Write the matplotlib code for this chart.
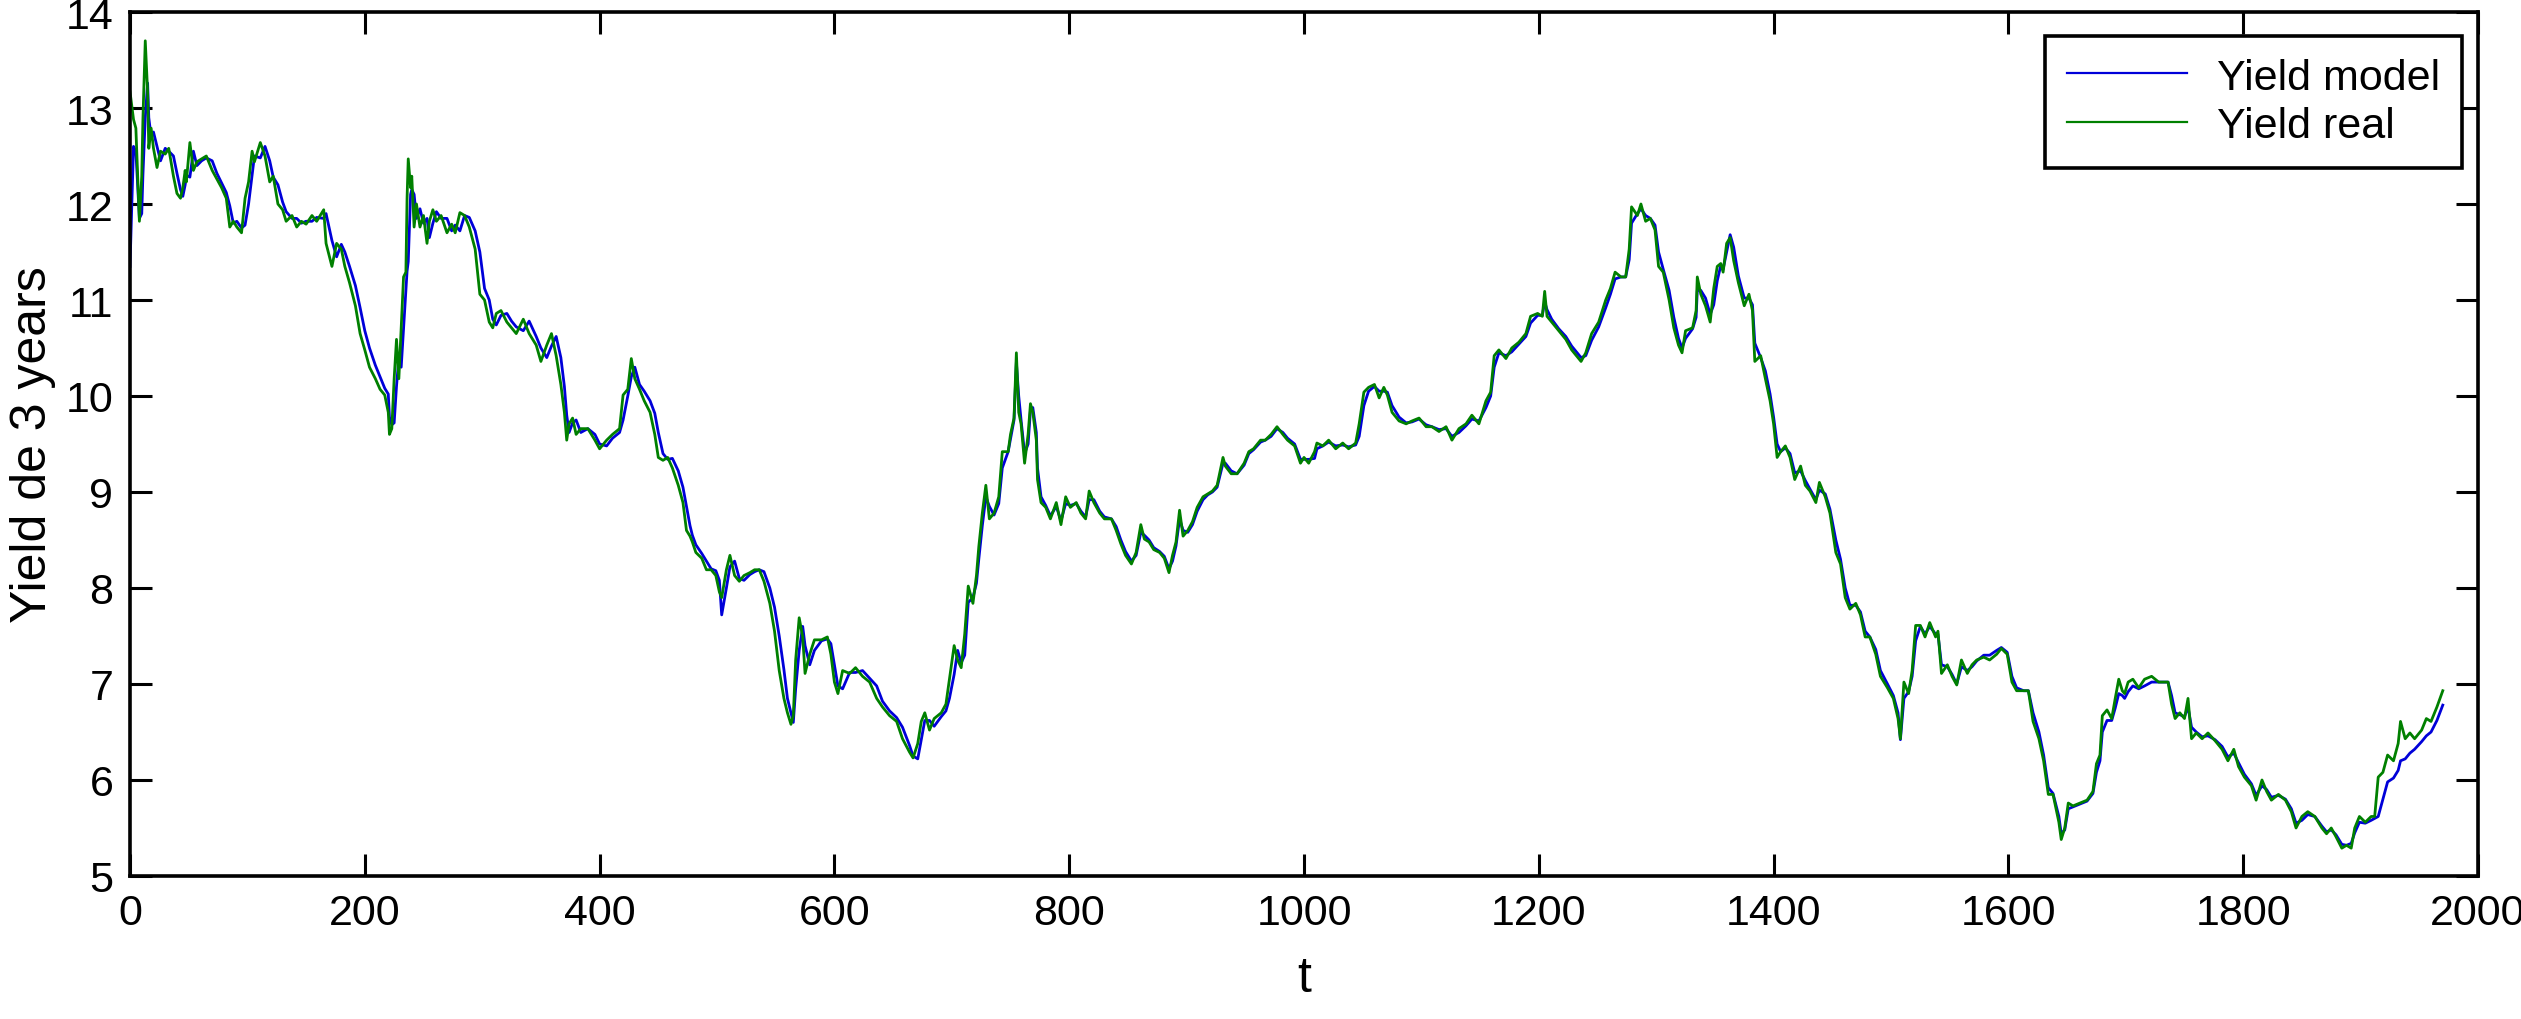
import matplotlib
matplotlib.use("Agg")
import matplotlib.pyplot as plt

plt.rcParams['font.family'] = ['Liberation Sans', 'DejaVu Sans']

# time index (trading days)
t_days = [
    0, 3, 5, 8, 10, 11, 13, 15, 16, 18,
    20, 23, 26, 30, 33, 37, 40, 43, 45, 47,
    48, 51, 54, 57, 61, 65, 70, 74, 78, 82,
    85, 88, 91, 95, 98, 101, 104, 106, 111, 115,
    119, 122, 126, 130, 133, 138, 142, 146, 150, 155,
    159, 165, 167, 172, 176, 180, 183, 187, 192, 196,
    200, 204, 209, 213, 217, 220, 221, 223, 225, 227,
    229, 231, 233, 235, 236, 237, 239, 240, 242, 244,
    247, 250, 253, 255, 258, 261, 265, 270, 274, 277,
    281, 285, 289, 294, 298, 302, 306, 309, 312, 316,
    321, 325, 329,
    335, 340, 346, 350, 355, 359, 363, 367, 370, 372,
    374, 377, 380, 384, 390, 396, 400, 406, 411, 417,
    420, 424, 427, 430, 434, 438, 443, 447, 450, 454,
    458, 462, 467, 471, 474, 477, 479, 482, 487, 491,
    495, 499, 502, 504, 508, 511, 515, 519, 523, 528,
    532, 536, 540, 545, 549, 553, 557, 560, 563, 565,
    567, 570, 573, 575, 579, 583, 589, 594, 597, 600,
    603, 607, 613, 618, 624, 630, 636, 641, 647, 653,
    658, 664,
    667, 671, 674, 677, 681, 685, 691, 695, 698, 702,
    705, 708, 711, 714, 718, 721, 723, 726, 729, 732,
    736, 740, 743, 748, 750, 753, 755, 757, 759, 762,
    765, 767, 769, 772, 773, 776, 780, 784, 789, 793,
    797, 801, 806, 810, 814, 817, 821, 826, 830, 836,
    840, 844, 848, 853, 857, 861, 864, 868, 872, 877,
    881, 885, 888, 891, 894, 897, 901, 905, 909, 914,
    918, 922, 926, 931, 933, 938, 943, 949, 953, 957,
    963, 967, 972, 977, 982, 986, 992, 997, 1000,
    1004, 1009, 1011, 1016, 1021, 1027, 1033, 1038, 1044, 1047,
    1051, 1055, 1060, 1064, 1068, 1071, 1075, 1081, 1087, 1092,
    1098, 1104, 1109, 1115, 1121, 1126, 1132, 1138, 1143, 1149,
    1155, 1159, 1162, 1166, 1172, 1177, 1183, 1189, 1193, 1199,
    1203, 1205, 1207, 1211, 1217, 1223, 1228, 1236, 1240, 1245,
    1251, 1257, 1261, 1265, 1270, 1274, 1277, 1279, 1284, 1287,
    1291, 1295, 1299, 1302, 1306, 1311, 1315, 1319, 1322, 1325,
    1331, 1334, 1335, 1338,
    1342, 1346, 1349, 1352, 1355, 1357, 1360, 1363, 1366, 1370,
    1375, 1379, 1382, 1384, 1389, 1393, 1397, 1400, 1403, 1406,
    1410, 1414, 1418, 1423, 1427, 1431, 1436, 1439, 1444, 1448,
    1453, 1457, 1461, 1465, 1470, 1474, 1478, 1482, 1487, 1491,
    1497, 1502, 1506, 1508, 1511, 1515, 1518, 1521, 1525, 1529,
    1533, 1538, 1540, 1543, 1548, 1552, 1556, 1560, 1565, 1569,
    1573, 1579, 1584, 1590, 1594, 1599, 1603, 1607, 1613, 1617,
    1621, 1626, 1630, 1634, 1638, 1643, 1645, 1648, 1651, 1655,
    1661, 1667, 1672, 1675,
    1678, 1680, 1684, 1688, 1691, 1694, 1697, 1699, 1702, 1706,
    1711, 1716, 1722, 1728, 1733, 1736, 1739, 1742, 1746, 1750,
    1753, 1756, 1760, 1765, 1770, 1776, 1782, 1787, 1792, 1796,
    1801, 1807, 1811, 1816, 1820, 1824, 1830, 1836, 1841, 1845,
    1850, 1855, 1861, 1867, 1871, 1875, 1879, 1884, 1888, 1892,
    1895, 1899, 1904, 1909, 1912, 1915, 1919, 1923, 1928, 1932,
    1934, 1938, 1942, 1946, 1952, 1956, 1960, 1965, 1970,
]

# observed 3-year yield
yield_real = [
    13.17, 12.88, 12.79, 11.82, 12.29, 12.88, 13.70, 13.17, 12.58, 12.79,
    12.58, 12.38, 12.55, 12.52, 12.58, 12.29, 12.11, 12.06, 12.17, 12.35,
    12.23, 12.64, 12.35, 12.44, 12.47, 12.50, 12.35, 12.26, 12.17, 12.06,
    11.76, 11.82, 11.76, 11.70, 12.06, 12.23, 12.55, 12.44, 12.64, 12.50,
    12.23, 12.29, 12.00, 11.94, 11.82, 11.88, 11.76, 11.82, 11.79, 11.88,
    11.82, 11.94, 11.59, 11.35, 11.59, 11.53, 11.35, 11.18, 10.94, 10.65,
    10.48, 10.30, 10.18, 10.07, 10.01, 9.83, 9.60, 9.66, 10.18, 10.59,
    10.18, 10.71, 11.24, 11.29, 12.06, 12.47, 12.17, 12.29, 11.76, 12.00,
    11.76, 11.88, 11.59, 11.82, 11.94, 11.82, 11.88, 11.70, 11.79, 11.70,
    11.91, 11.88, 11.76, 11.53, 11.06, 11.00, 10.77, 10.71, 10.86, 10.89,
    10.77, 10.71, 10.65,
    10.80, 10.65, 10.53, 10.36, 10.53, 10.65, 10.42, 10.12, 9.83, 9.54,
    9.71, 9.77, 9.60, 9.66, 9.66, 9.54, 9.45, 9.54, 9.60, 9.66,
    10.01, 10.07, 10.39, 10.18, 10.07, 9.95, 9.83, 9.60, 9.36, 9.33,
    9.36, 9.25, 9.07, 8.89, 8.60, 8.54, 8.48, 8.37, 8.31, 8.19,
    8.19, 8.13, 7.96, 7.90, 8.19, 8.34, 8.13, 8.07, 8.13, 8.16,
    8.19, 8.19, 8.07, 7.84, 7.55, 7.14, 6.85, 6.70, 6.58, 6.67,
    7.25, 7.69, 7.49, 7.11, 7.31, 7.46, 7.46, 7.49, 7.31, 7.02,
    6.90, 7.14, 7.11, 7.17, 7.08, 7.02, 6.85, 6.76, 6.67, 6.61,
    6.43, 6.29,
    6.23, 6.38, 6.61, 6.70, 6.52, 6.64, 6.70, 6.79, 7.05, 7.40,
    7.25, 7.17, 7.52, 8.02, 7.84, 8.13, 8.43, 8.78, 9.07, 8.72,
    8.78, 8.95, 9.42, 9.42, 9.60, 9.77, 10.45, 9.83, 9.71, 9.30,
    9.60, 9.92, 9.83, 9.54, 9.13, 8.89, 8.84, 8.72, 8.89, 8.66,
    8.95, 8.84, 8.89, 8.78, 8.72, 9.01, 8.89, 8.78, 8.72, 8.72,
    8.60, 8.46, 8.34, 8.25, 8.37, 8.66, 8.51, 8.48, 8.40, 8.37,
    8.31, 8.16, 8.34, 8.48, 8.81, 8.54, 8.60, 8.69, 8.84, 8.95,
    8.98, 9.01, 9.07, 9.36, 9.27, 9.19, 9.19, 9.30, 9.42, 9.45,
    9.54, 9.54, 9.60, 9.68, 9.60, 9.54, 9.48, 9.30, 9.36,
    9.30, 9.42, 9.51, 9.48, 9.54, 9.45, 9.51, 9.45, 9.51, 9.71,
    10.04, 10.09, 10.12, 9.98, 10.09, 10.01, 9.83, 9.74, 9.71, 9.74,
    9.77, 9.68, 9.68, 9.63, 9.68, 9.54, 9.66, 9.71, 9.80, 9.71,
    9.95, 10.04, 10.42, 10.48, 10.39, 10.50, 10.56, 10.65, 10.83, 10.86,
    10.83, 11.09, 10.83, 10.77, 10.68, 10.59, 10.48, 10.36, 10.45, 10.65,
    10.77, 11.00, 11.12, 11.29, 11.24, 11.24, 11.53, 11.97, 11.88, 12.00,
    11.82, 11.85, 11.73, 11.35, 11.29, 11.00, 10.71, 10.53, 10.45, 10.68,
    10.71, 10.89, 11.24, 11.06,
    10.94, 10.77, 11.12, 11.35, 11.38, 11.29, 11.59, 11.65, 11.41, 11.18,
    10.94, 11.06, 10.89, 10.36, 10.42, 10.18, 9.95, 9.71, 9.36, 9.42,
    9.48, 9.36, 9.13, 9.27, 9.07, 9.01, 8.89, 9.10, 8.95, 8.78,
    8.37, 8.25, 7.90, 7.78, 7.84, 7.72, 7.49, 7.49, 7.31, 7.08,
    6.96, 6.85, 6.64, 6.43, 7.02, 6.90, 7.14, 7.61, 7.61, 7.49,
    7.64, 7.49, 7.55, 7.11, 7.20, 7.08, 6.99, 7.25, 7.11, 7.20,
    7.25, 7.28, 7.25, 7.31, 7.37, 7.31, 7.02, 6.93, 6.93, 6.93,
    6.61, 6.43, 6.20, 5.85, 5.85, 5.56, 5.38, 5.50, 5.76, 5.73,
    5.76, 5.79, 5.88, 6.17,
    6.26, 6.67, 6.73, 6.64, 6.85, 7.05, 6.93, 6.90, 7.02, 7.05,
    6.96, 7.05, 7.08, 7.02, 7.02, 7.02, 6.79, 6.64, 6.70, 6.64,
    6.85, 6.43, 6.49, 6.43, 6.49, 6.41, 6.32, 6.20, 6.32, 6.14,
    6.03, 5.94, 5.79, 6.00, 5.88, 5.79, 5.85, 5.79, 5.67, 5.50,
    5.62, 5.67, 5.62, 5.50, 5.44, 5.50, 5.41, 5.29, 5.32, 5.29,
    5.50, 5.62, 5.56, 5.62, 5.62, 6.03, 6.08, 6.26, 6.20, 6.38,
    6.61, 6.43, 6.49, 6.43, 6.52, 6.64, 6.61, 6.76, 6.93,
]

# model 3-year yield
yield_model = [
    11.35, 12.60, 12.55, 11.85, 11.90, 12.30, 12.90, 13.26, 12.90, 12.70,
    12.75, 12.60, 12.45, 12.58, 12.55, 12.50, 12.32, 12.15, 12.08, 12.20,
    12.30, 12.28, 12.55, 12.40, 12.45, 12.48, 12.45, 12.32, 12.22, 12.12,
    11.98, 11.80, 11.82, 11.75, 11.78, 12.00, 12.30, 12.50, 12.48, 12.60,
    12.45, 12.28, 12.20, 12.02, 11.92, 11.85, 11.85, 11.80, 11.82, 11.82,
    11.86, 11.85, 11.90, 11.62, 11.45, 11.58, 11.50, 11.35, 11.15, 10.92,
    10.68, 10.50, 10.32, 10.20, 10.08, 10.02, 9.78, 9.70, 9.72, 10.10,
    10.40, 10.30, 10.70, 11.10, 11.30, 11.40, 12.10, 12.15, 12.10, 11.85,
    11.95, 11.80, 11.85, 11.65, 11.80, 11.92, 11.85, 11.85, 11.72, 11.78,
    11.72, 11.88, 11.86, 11.72, 11.50, 11.12, 11.00, 10.80, 10.74, 10.84,
    10.86, 10.78, 10.72,
    10.68, 10.78, 10.62, 10.50, 10.40, 10.52, 10.62, 10.40, 10.10, 9.80,
    9.62, 9.72, 9.75, 9.62, 9.66, 9.60, 9.50, 9.48, 9.56, 9.62,
    9.75, 10.00, 10.20, 10.30, 10.12, 10.05, 9.95, 9.82, 9.62, 9.40,
    9.34, 9.35, 9.22, 9.05, 8.85, 8.65, 8.55, 8.45, 8.36, 8.28,
    8.20, 8.18, 8.08, 7.72, 8.00, 8.22, 8.28, 8.10, 8.08, 8.14,
    8.17, 8.19, 8.17, 8.00, 7.80, 7.50, 7.15, 6.85, 6.70, 6.60,
    6.95, 7.35, 7.60, 7.40, 7.20, 7.35, 7.45, 7.47, 7.42, 7.20,
    6.98, 6.95, 7.12, 7.12, 7.14, 7.06, 6.98, 6.82, 6.72, 6.65,
    6.55, 6.36,
    6.25, 6.22, 6.42, 6.62, 6.62, 6.56, 6.66, 6.72, 6.85, 7.10,
    7.35, 7.22, 7.30, 7.85, 7.90, 8.05, 8.30, 8.65, 8.95, 8.85,
    8.76, 8.88, 9.25, 9.42, 9.55, 9.75, 10.35, 10.00, 9.75, 9.40,
    9.50, 9.85, 9.88, 9.62, 9.25, 8.95, 8.86, 8.75, 8.85, 8.70,
    8.88, 8.86, 8.88, 8.80, 8.74, 8.92, 8.92, 8.80, 8.74, 8.72,
    8.64, 8.50, 8.38, 8.28, 8.34, 8.58, 8.55, 8.50, 8.42, 8.38,
    8.33, 8.20, 8.28, 8.44, 8.72, 8.60, 8.58, 8.66, 8.80, 8.92,
    8.97, 9.00, 9.05, 9.30, 9.30, 9.22, 9.19, 9.28, 9.40, 9.44,
    9.52, 9.54, 9.58, 9.66, 9.62, 9.56, 9.50, 9.34, 9.34,
    9.34, 9.35, 9.45, 9.48, 9.52, 9.48, 9.49, 9.47, 9.49, 9.58,
    9.90, 10.05, 10.10, 10.05, 10.05, 10.04, 9.90, 9.78, 9.72, 9.73,
    9.76, 9.70, 9.68, 9.65, 9.66, 9.58, 9.62, 9.69, 9.76, 9.74,
    9.88, 10.00, 10.30, 10.45, 10.42, 10.46, 10.54, 10.62, 10.76, 10.84,
    10.84, 10.98, 10.90, 10.80, 10.70, 10.62, 10.52, 10.40, 10.42, 10.58,
    10.72, 10.92, 11.06, 11.22, 11.24, 11.24, 11.42, 11.80, 11.90, 11.95,
    11.88, 11.85, 11.78, 11.50, 11.32, 11.10, 10.82, 10.60, 10.50, 10.60,
    10.70, 10.82, 11.10, 11.10,
    11.02, 10.85, 10.95, 11.20, 11.36, 11.32, 11.50, 11.68, 11.55, 11.25,
    11.02, 11.02, 10.95, 10.55, 10.40, 10.26, 10.02, 9.78, 9.50, 9.42,
    9.46, 9.40, 9.20, 9.22, 9.12, 9.03, 8.92, 9.02, 8.98, 8.82,
    8.50, 8.30, 8.00, 7.82, 7.82, 7.75, 7.55, 7.49, 7.36, 7.14,
    7.00, 6.88, 6.70, 6.42, 6.85, 6.92, 7.08, 7.45, 7.60, 7.52,
    7.60, 7.52, 7.52, 7.20, 7.18, 7.10, 7.00, 7.18, 7.14, 7.18,
    7.24, 7.30, 7.30, 7.35, 7.38, 7.33, 7.08, 6.96, 6.93, 6.93,
    6.70, 6.50, 6.26, 5.92, 5.86, 5.62, 5.44, 5.48, 5.70, 5.72,
    5.75, 5.78, 5.86, 6.08,
    6.20, 6.50, 6.62, 6.62, 6.75, 6.90, 6.88, 6.85, 6.92, 6.98,
    6.95, 6.98, 7.02, 7.02, 7.02, 7.02, 6.88, 6.70, 6.68, 6.66,
    6.76, 6.55, 6.50, 6.45, 6.46, 6.42, 6.35, 6.24, 6.28, 6.18,
    6.06, 5.96, 5.84, 5.94, 5.90, 5.82, 5.84, 5.80, 5.70, 5.55,
    5.58, 5.64, 5.62, 5.52, 5.46, 5.48, 5.43, 5.33, 5.32, 5.34,
    5.45, 5.56, 5.55, 5.58, 5.60, 5.62, 5.80, 5.98, 6.02, 6.10,
    6.20, 6.22, 6.28, 6.32, 6.40, 6.46, 6.50, 6.62, 6.78,
]

x_ticks = [0, 200, 400, 600, 800, 1000, 1200, 1400, 1600, 1800, 2000]
y_ticks = [5, 6, 7, 8, 9, 10, 11, 12, 13, 14]
series_labels = ["Yield model", "Yield real"]

W, H, DPI = 2521, 1020, 100
fig = plt.figure(figsize=(W / DPI, H / DPI), dpi=DPI)
ax_left, ax_right, ax_top, ax_bottom = 130, 2478, 13, 877
ax = fig.add_axes([ax_left / W, (H - ax_bottom) / H,
                   (ax_right - ax_left) / W, (ax_bottom - ax_top) / H])

ax.plot(t_days, yield_model, color=(0.0, 0.0, 0.85), lw=2.0, label=series_labels[0])
ax.plot(t_days, yield_real, color=(0.0, 0.5, 0.0), lw=2.0, label=series_labels[1])

ax.set_xlim(0, 2000)
ax.set_ylim(5, 14)
ax.set_xticks(x_ticks)
ax.set_yticks(y_ticks)
ax.tick_params(direction='in', length=16, width=2.2, labelsize=31,
               top=True, right=True, pad=12)
for s in ax.spines.values():
    s.set_linewidth(2.6)

ax.set_xlabel("t", fontsize=36, labelpad=16)
ax.set_ylabel("Yield de 3 years", fontsize=36, labelpad=7)

leg_right = (2462 - ax_left) / (ax_right - ax_left)
leg_top = (ax_bottom - 37) / (ax_bottom - ax_top)
leg = ax.legend(loc='upper right', bbox_to_anchor=(leg_right, leg_top),
                borderaxespad=0.0, fontsize=31, frameon=True, fancybox=False,
                handlelength=2.8, handletextpad=0.7, labelspacing=0.2,
                borderpad=0.5)
leg.get_frame().set_edgecolor('black')
leg.get_frame().set_linewidth(2.6)
leg.get_frame().set_alpha(1.0)
for line in leg.get_lines():
    line.set_linewidth(1.6)

fig.savefig("out.png", dpi=DPI)
